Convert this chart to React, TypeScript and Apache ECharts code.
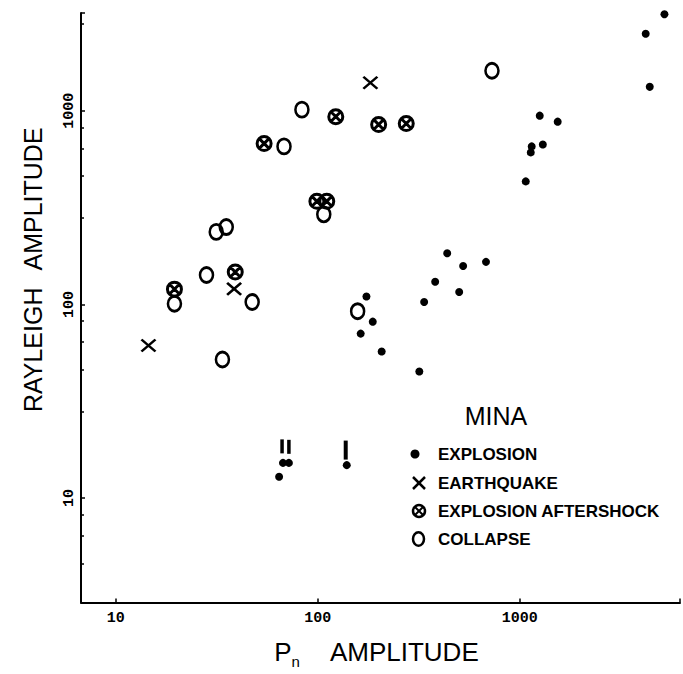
import React, { useEffect, useRef } from 'react';
import * as echarts from 'echarts';

// [Pn amplitude, Rayleigh amplitude]
const explosion: [number, number][] = [
  [5200, 3150], [4200, 2500], [4400, 1330], [1255, 944], [1540, 879],
  [1300, 670], [1145, 655], [1133, 610], [1070, 432], [437, 184],
  [680, 166], [524, 158], [381, 131], [501, 116], [336, 103],
  [174, 110], [187, 81.5], [163, 70.7], [207, 57.2], [318, 45.1],
  [64.3, 12.9], [67.2, 15.2], [71.9, 15.2], [139, 14.8],
];
const earthquake: [number, number][] = [
  [182, 1396], [14.5, 61.4], [38.5, 120.4],
];
const aftershock: [number, number][] = [
  [122.7, 933], [200, 849], [274, 859], [54.2, 678], [98.9, 341],
  [110.7, 341], [39, 147], [19.5, 120],
];
const collapse: [number, number][] = [
  [728, 1610], [83.4, 1014], [68, 655], [107, 292], [31.4, 237],
  [35.2, 251], [28.1, 142], [19.5, 100.8], [47.3, 103], [157.4, 92.3],
  [33.7, 52],
];
// vertical limit bars drawn above some explosion points
const limitBars: [number, number][] = [
  [66.5, 18.5], [71.9, 18.4], [137.4, 17.7],
];

const xTickLabels = ['10', '100', '1000'];
const yTickLabels = ['10', '100', '1000'];
const legendTitle = 'MINA';
const legendNames = ['EXPLOSION', 'EARTHQUAKE', 'EXPLOSION AFTERSHOCK', 'COLLAPSE'];

const FONT = '"Liberation Sans", Arial, sans-serif';
const MONO = '"Liberation Mono", "DejaVu Sans Mono", monospace';

const ringPath = 'path://M10,0A10,10,0,1,1,10,20A10,10,0,1,1,10,0Z';
const otimesPath = 'path://M10,0A10,10,0,1,1,10,20A10,10,0,1,1,10,0ZM3,3L17,17M17,3L3,17';
const xPath = 'path://M0,0L10,10M10,0L0,10';

function decadeFormatter(labels: string[]) {
  return (v: number) => {
    const s = String(Math.round(v));
    const l = Math.log10(v);
    return Math.abs(l - Math.round(l)) < 1e-6 && labels.includes(s) ? s : '';
  };
}

export default function App() {
  const ref = useRef<HTMLDivElement>(null);
  useEffect(() => {
    document.body.style.margin = '0';
    const chart = echarts.init(ref.current!, null, { renderer: 'svg' });
    const lineStyle = { color: '#000', width: 2 };
    const stroke = { fill: 'none', stroke: '#000', lineWidth: 2.5 };
    const legendY = [454, 483, 511, 539];
    chart.setOption({
      animation: false,
      backgroundColor: '#fff',
      grid: { left: 81, right: 0, top: 13, bottom: 69 },
      xAxis: {
        type: 'log',
        logBase: 10,
        min: 6.72,
        max: 6210,
        axisLine: { lineStyle },
        axisTick: { show: true, inside: true, length: 4, lineStyle: { color: '#000', width: 1.5 } },
        splitLine: { show: false },
        axisLabel: {
          formatter: decadeFormatter(xTickLabels),
          fontFamily: MONO,
          fontWeight: 'bold',
          fontSize: 15,
          color: '#000',
          margin: 8,
          showMinLabel: true,
          showMaxLabel: true,
        },
        name: '{a|P}{b|n}{c|AMPLITUDE}',
        nameLocation: 'middle',
        nameGap: 34,
        nameTextStyle: {
          padding: [0, 8, 0, 0],
          rich: {
            a: { fontFamily: FONT, fontSize: 26, color: '#000', lineHeight: 30, verticalAlign: 'middle' },
            b: { fontFamily: FONT, fontSize: 15, color: '#000', lineHeight: 12, padding: [20, 0, 0, 0], verticalAlign: 'middle' },
            c: { fontFamily: FONT, fontSize: 26, color: '#000', lineHeight: 30, verticalAlign: 'middle', padding: [0, 0, 0, 30] },
          },
        },
      },
      yAxis: {
        type: 'log',
        logBase: 10,
        min: 2.89,
        max: 3200,
        axisLine: { lineStyle },
        axisTick: { show: true, inside: true, length: 4, lineStyle: { color: '#000', width: 1.5 } },
        minorTick: { show: true, splitNumber: 5, length: 3, lineStyle: { color: '#000', width: 1.5 } },
        splitLine: { show: false },
        axisLabel: {
          formatter: decadeFormatter(yTickLabels),
          rotate: 90,
          fontFamily: MONO,
          fontWeight: 'bold',
          fontSize: 15,
          color: '#000',
          margin: 4,
        },
        name: '{a|RAYLEIGH}{b|AMPLITUDE}',
        nameLocation: 'middle',
        nameGap: 36,
        nameTextStyle: {
          padding: [0, 0, 0, 76],
          rich: {
            a: { fontFamily: FONT, fontSize: 25, color: '#000' },
            b: { fontFamily: FONT, fontSize: 25, color: '#000', padding: [0, 0, 0, 17] },
          },
        },
      },
      series: [
        {
          name: legendNames[0],
          type: 'scatter',
          clip: false,
          data: explosion,
          symbol: 'circle',
          symbolSize: 8,
          itemStyle: { color: '#000', opacity: 1 },
        },
        {
          name: 'limit',
          type: 'scatter',
          clip: false,
          data: limitBars,
          symbol: 'rect',
          symbolSize: (_v: number[], p: any) => (p.dataIndex === 2 ? [4, 19] : [3.5, 14]),
          itemStyle: { color: '#000', opacity: 1 },
        },
        {
          name: legendNames[1],
          type: 'scatter',
          clip: false,
          data: earthquake,
          symbol: xPath,
          symbolSize: [14, 12],
          itemStyle: { color: 'rgba(0,0,0,0)', borderColor: '#000', borderWidth: 2.5, opacity: 1 },
        },
        {
          name: legendNames[2],
          type: 'scatter',
          clip: false,
          data: aftershock,
          symbol: otimesPath,
          symbolSize: 14,
          itemStyle: { color: 'rgba(0,0,0,0)', borderColor: '#000', borderWidth: 3, opacity: 1 },
        },
        {
          name: legendNames[3],
          type: 'scatter',
          clip: false,
          data: collapse,
          symbol: ringPath,
          symbolSize: [13, 15],
          itemStyle: { color: 'rgba(0,0,0,0)', borderColor: '#000', borderWidth: 2.7, opacity: 1 },
        },
      ],
      graphic: [
        {
          type: 'text', x: 496, y: 416,
          style: { text: legendTitle, font: `25px ${FONT}`, fill: '#000', align: 'center', verticalAlign: 'middle' },
        },
        { type: 'circle', shape: { cx: 415, cy: legendY[0], r: 4.5 }, style: { fill: '#000' } },
        { type: 'line', shape: { x1: 413, y1: legendY[1] - 6, x2: 425, y2: legendY[1] + 6 }, style: stroke },
        { type: 'line', shape: { x1: 425, y1: legendY[1] - 6, x2: 413, y2: legendY[1] + 6 }, style: stroke },
        { type: 'circle', shape: { cx: 419, cy: legendY[2], r: 6 }, style: stroke },
        { type: 'line', shape: { x1: 415, y1: legendY[2] - 4, x2: 423, y2: legendY[2] + 4 }, style: { ...stroke, lineWidth: 2 } },
        { type: 'line', shape: { x1: 423, y1: legendY[2] - 4, x2: 415, y2: legendY[2] + 4 }, style: { ...stroke, lineWidth: 2 } },
        { type: 'ellipse', shape: { cx: 418.5, cy: legendY[3], rx: 5.5, ry: 6.8 }, style: stroke },
        ...legendNames.map((n, i) => ({
          type: 'text', x: 438, y: legendY[i],
          style: { text: n, font: `bold 17px ${FONT}`, fill: '#000', align: 'left', verticalAlign: 'middle' },
        })),
      ],
    });
    return () => chart.dispose();
  }, []);
  return <div ref={ref} style={{ width: 683, height: 674 }} />;
}
